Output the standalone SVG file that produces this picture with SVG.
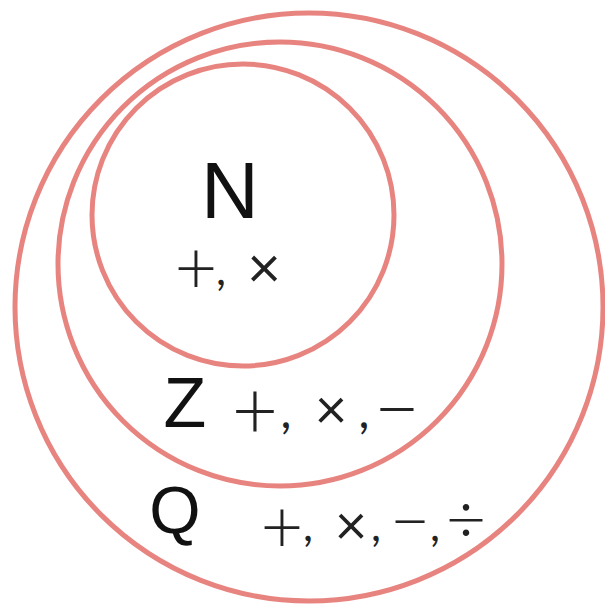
<svg xmlns="http://www.w3.org/2000/svg" width="605" height="607" viewBox="0 0 605 607">
<style>
.ring{fill:none;stroke:#e8847f;stroke-width:5}
.lbl{font-family:"Liberation Sans",Arial,sans-serif;fill:#111;text-anchor:middle}
.op{font-family:Lato,"Liberation Sans",sans-serif;font-weight:300;fill:#222;text-anchor:middle}
.op .m,.op .c{font-weight:400}
</style>
<rect width="605" height="607" fill="#fff"/>
<g id="Q">
<circle class="ring" cx="309" cy="307" r="294"/>
<text class="lbl" x="175" y="533" font-size="66">Q</text>
<text class="op"><tspan x="282" y="553" font-size="74">+</tspan><tspan class="c" x="308" y="541" font-size="44">,</tspan><tspan class="m" x="351" y="545" font-size="56">×</tspan><tspan class="c" x="376" y="541" font-size="44">,</tspan><tspan x="410" y="546" font-size="70">−</tspan><tspan class="c" x="435" y="541" font-size="44">,</tspan><tspan x="466" y="544" font-size="70">÷</tspan></text>
</g>
<g id="Z">
<circle class="ring" cx="280" cy="264" r="222"/>
<text class="lbl" x="185" y="427" font-size="70">Z</text>
<text class="op"><tspan x="255" y="439" font-size="80">+</tspan><tspan class="c" x="286" y="428" font-size="48">,</tspan><tspan class="m" x="331" y="429" font-size="56">×</tspan><tspan class="c" x="364" y="428" font-size="48">,</tspan><tspan x="397" y="437" font-size="80">−</tspan></text>
</g>
<g id="N">
<circle class="ring" cx="243" cy="215" r="151"/>
<text class="lbl" x="230" y="218" font-size="80">N</text>
<text class="op"><tspan x="196" y="294" font-size="74">+</tspan><tspan class="c" x="221" y="285" font-size="44">,</tspan><tspan class="m" x="264" y="288" font-size="58">×</tspan></text>
</g>
</svg>
